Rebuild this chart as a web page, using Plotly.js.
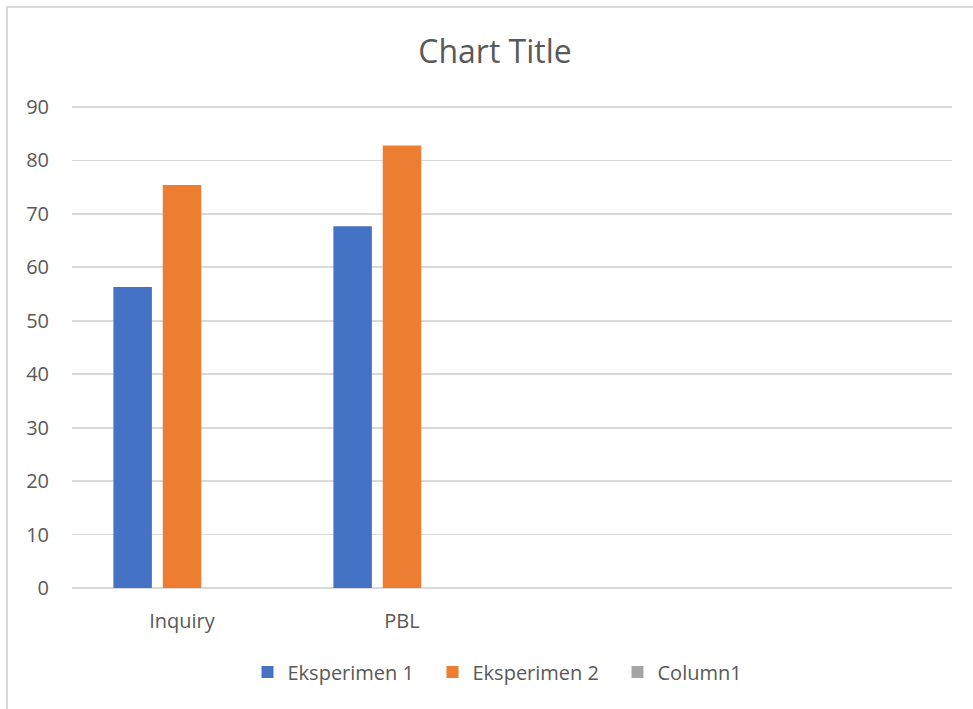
<!DOCTYPE html>
<html>
<head>
<meta charset="utf-8">
<script src="https://cdn.plot.ly/plotly-3.0.1.min.js"></script>
<style>
  html, body { margin: 0; padding: 0; background: #ffffff; }
  #wrap { position: relative; width: 973px; height: 709px; overflow: hidden; }
  #frame { position: absolute; left: 6px; top: 6px; width: 1000px; height: 800px;
           border-left: 2px solid #d9d9d9; border-top: 2px solid #d9d9d9; pointer-events: none; }
  #chart { position: absolute; left: 0; top: 0; width: 973px; height: 709px; }
</style>
</head>
<body>
<div id="wrap">
  <div id="chart"></div>
  <div id="frame"></div>
</div>
<script>
// Data
const categories = ["Inquiry", "PBL"];
const categoryPositions = [0, 1];
const eksperimen1 = [56.3, 67.7];
const eksperimen2 = [75.4, 82.8];
const column1 = [null, null];
const seriesNames = ["Eksperimen 1", "Eksperimen 2", "Column1"];
const yTicks = [0, 10, 20, 30, 40, 50, 60, 70, 80, 90];

const colors = ["#4472C4", "#ED7D31", "#A5A5A5"];
const fontFamily = "'Open Sans', 'Noto Sans', sans-serif";
const textColor = "#595959";

const traces = [eksperimen1, eksperimen2, column1].map((vals, i) => ({
  type: "bar",
  name: seriesNames[i],
  x: categoryPositions,
  y: vals,
  marker: { color: colors[i] },
  hoverinfo: "none"
}));

const layout = {
  width: 973,
  height: 709,
  paper_bgcolor: "#ffffff",
  plot_bgcolor: "#ffffff",
  margin: { l: 72, r: 21, t: 104, b: 121 },
  font: { family: fontFamily, color: textColor, size: 20 },
  title: {
    text: "Chart Title",
    font: { family: fontFamily, size: 32, color: textColor },
    x: 495 / 973, xanchor: "center",
    y: 1 - 52 / 709, yanchor: "middle"
  },
  barmode: "group",
  bargap: 0.327,
  bargroupgap: 0.22,
  xaxis: {
    type: "linear",
    range: [-0.5, 3.5],
    tickvals: categoryPositions,
    ticktext: categories,
    ticks: "outside",
    ticklen: 15,
    tickcolor: "rgba(0,0,0,0)",
    showgrid: false,
    zeroline: false,
    showline: false,
    tickfont: { size: 20, color: textColor },
    fixedrange: true
  },
  yaxis: {
    range: [0, 90.56],
    tickvals: yTicks,
    ticks: "outside",
    ticklen: 18,
    tickcolor: "rgba(0,0,0,0)",
    showgrid: true,
    gridcolor: "#d9d9d9",
    gridwidth: 1.8,
    zeroline: true,
    zerolinecolor: "#d9d9d9",
    zerolinewidth: 1.8,
    showline: false,
    tickfont: { size: 20, color: textColor },
    fixedrange: true
  },
  showlegend: true,
  legend: {
    orientation: "h",
    x: (525 - 72) / 880, xanchor: "center",
    y: (588 - 672) / 484, yanchor: "middle",
    font: { size: 20, color: textColor },
    itemwidth: 30,
    entrywidth: 140,
    entrywidthmode: "pixels",
    traceorder: "normal"
  }
};

Plotly.newPlot("chart", traces, layout, { displayModeBar: false, staticPlot: true });
</script>
</body>
</html>
